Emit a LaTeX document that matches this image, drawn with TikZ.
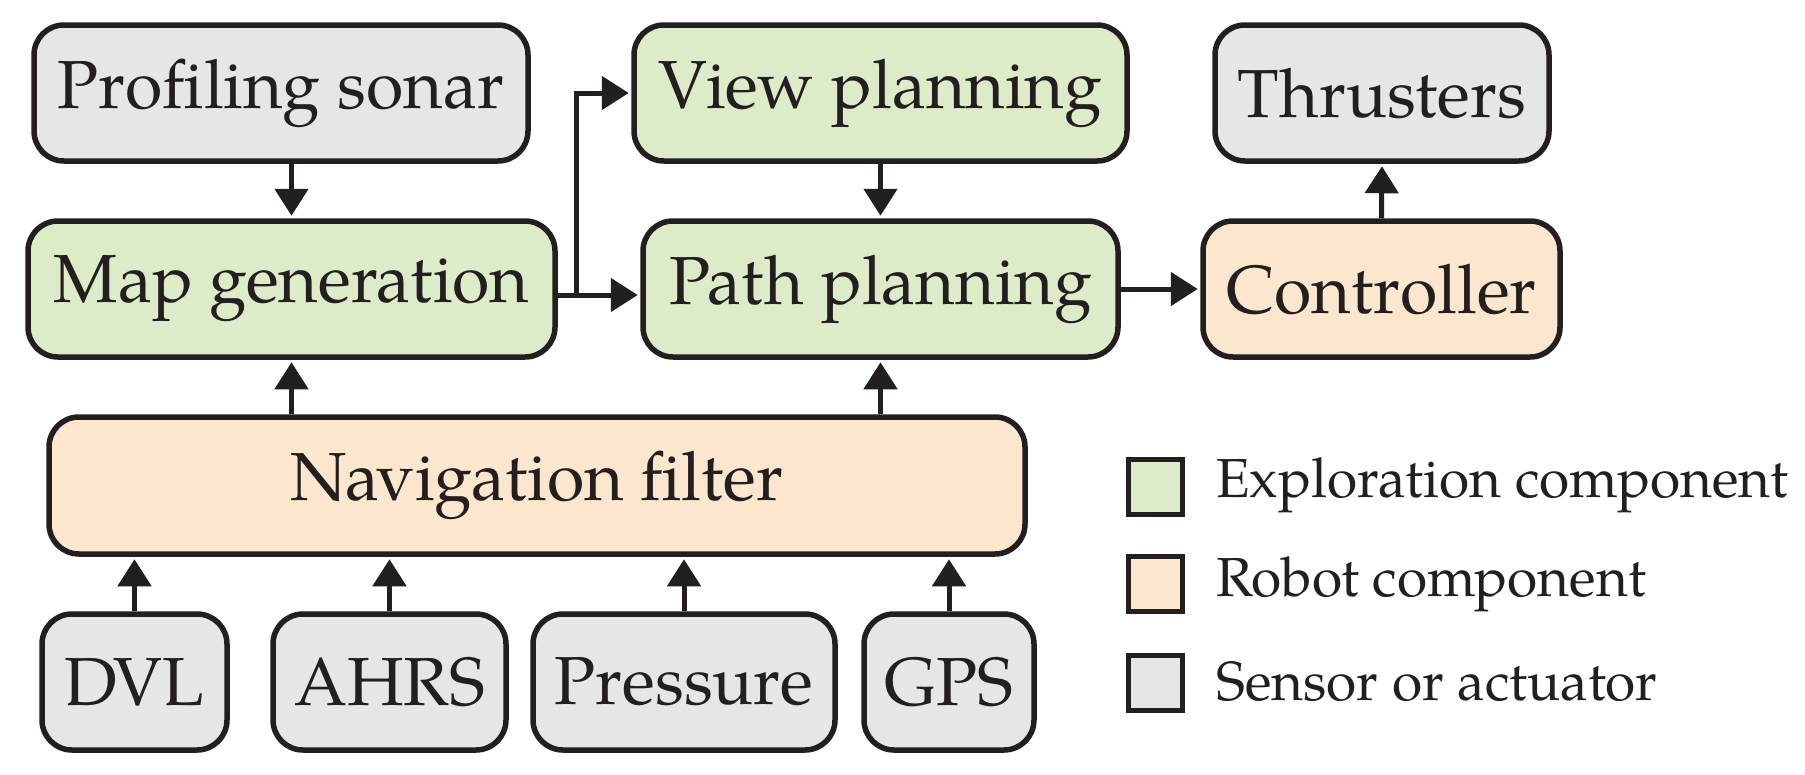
\documentclass[tikz,border=0pt]{standalone}
\usepackage{fontspec}
\setmainfont{TeX Gyre Pagella}
\usetikzlibrary{arrows.meta}
\definecolor{gfill}{HTML}{DEEBC8}
\definecolor{ofill}{HTML}{FDE6CE}
\definecolor{sfill}{HTML}{E6E6E6}
\definecolor{ink}{HTML}{231F20}
\begin{document}
\begin{tikzpicture}[x=1pt,y=-1pt,
 box/.style={draw=ink, line width=5.5pt, rounded corners=30pt, minimum height=136pt, inner sep=0pt, font=\fontsize{68}{80}\selectfont, text=ink},
 expl/.style={box, fill=gfill},
 robot/.style={box, fill=ofill},
 sens/.style={box, fill=sfill},
 conn/.style={draw=ink, line width=5pt, shorten >=2.5pt, -{Triangle[length=27pt,width=33pt]}},
 legsq/.style={draw=ink, line width=5pt, minimum width=54pt, minimum height=55pt, inner sep=0pt},
 legtxt/.style={anchor=base west, font=\fontsize{55}{66}\selectfont, text=ink, inner sep=0pt}]
\useasboundingbox (0,0) rectangle (1805,774);
% top row
\node[sens, minimum width=494pt] (sonar) at (281,93) {Profiling sonar};
\node[expl, minimum width=493pt] (view) at (880.5,93) {View planning};
\node[sens, minimum width=334pt] (thr) at (1382,93) {Thrusters};
% middle row
\node[expl, minimum width=527pt] (map) at (291.5,289) {Map generation};
\node[expl, minimum width=475pt] (path) at (880.5,289) {Path planning};
\node[robot, minimum width=357pt] (ctrl) at (1381.5,289) {Controller};
% navigation
\node[robot, minimum width=976pt, minimum height=137pt] (nav) at (537,485.5) {Navigation filter};
% sensors
\node[sens, minimum width=185pt] (dvl) at (134.5,682) {DVL};
\node[sens, minimum width=233pt] (ahrs) at (389.5,682) {AHRS};
\node[sens, minimum width=302pt] (pres) at (684,682) {Pressure};
\node[sens, minimum width=170pt] (gps) at (949,682) {GPS};
% connectors
\coordinate (br) at (576,295);
\draw[conn] (sonar.south -| map.north) -- (map.north);
\draw[conn] (nav.north -| map.south) -- (map.south);
\draw[conn] (nav.north -| path.south) -- (path.south);
\draw[conn] (view.south) -- (path.north);
\draw[conn] (map.east |- br) -- (path.west |- br);
\draw[conn] (br) |- (view.west);
\draw[conn] (path.east) -- (ctrl.west);
\draw[conn] (ctrl.north) -- (thr.south);
\draw[conn] (dvl.north) -- (dvl.north |- nav.south);
\draw[conn] (ahrs.north) -- (ahrs.north |- nav.south);
\draw[conn] (pres.north) -- (pres.north |- nav.south);
\draw[conn] (gps.north) -- (gps.north |- nav.south);
% legend
\node[legsq, fill=gfill] (lg1) at (1155.5,486.5) {};
\node[legsq, fill=ofill] (lg2) at (1155.5,584) {};
\node[legsq, fill=sfill] (lg3) at (1155.5,682.5) {};
\node[legtxt] (lt1) at (1216,497) {Exploration component};
\node[legtxt] (lt2) at (1216,596) {Robot component};
\node[legtxt] (lt3) at (1216,700) {Sensor or actuator};
\end{tikzpicture}
\end{document}
